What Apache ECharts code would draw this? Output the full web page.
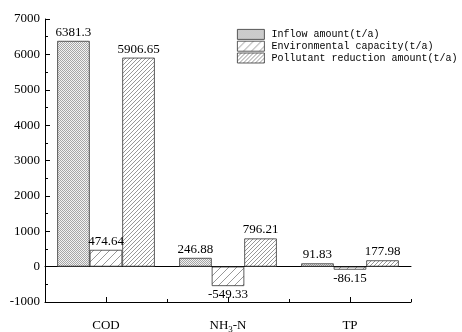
<!DOCTYPE html>
<html><head><meta charset="utf-8">
<script src="https://cdn.jsdelivr.net/npm/echarts@6/dist/echarts.min.js"></script>
<style>html,body{margin:0;padding:0;background:#fff}#c{width:462px;height:332px}</style>
</head><body><div id="c"></div>
<script>
var categories = ['COD', 'NH{sub|3}-N', 'TP'];
var inflow = [6381.3, 246.88, 91.83];
var envCapacity = [474.64, -549.33, -86.15];
var reduction = [5906.65, 796.21, 177.98];
var seriesNames = ['Inflow amount(t/a)', 'Environmental capacity(t/a)', 'Pollutant reduction amount(t/a)'];
var yTicks = [-1000, 0, 1000, 2000, 3000, 4000, 5000, 6000, 7000];

function pattern(kind) {
  var c = document.createElement('canvas');
  var ctx = c.getContext('2d');
  if (kind === 'dots') {
    c.width = 2; c.height = 2;
    ctx.fillStyle = '#f2f2f2'; ctx.fillRect(0, 0, 2, 2);
    ctx.fillStyle = '#a6a6a6';
    ctx.fillRect(0, 0, 1, 1); ctx.fillRect(1, 1, 1, 1);
  } else {
    var s = kind === 'sparse' ? 8 : 4;
    c.width = s; c.height = s;
    ctx.fillStyle = '#ffffff'; ctx.fillRect(0, 0, s, s);
    ctx.strokeStyle = '#8c8c8c'; ctx.lineWidth = 0.9;
    ctx.beginPath();
    ctx.moveTo(0, s); ctx.lineTo(s, 0);
    ctx.moveTo(-s, s); ctx.lineTo(s, -s);
    ctx.moveTo(0, 2 * s); ctx.lineTo(2 * s, 0);
    ctx.stroke();
  }
  return { image: c, repeat: 'repeat' };
}

var fills = [pattern('dots'), pattern('sparse'), pattern('dense')];
var serif = 'Liberation Serif';

function mkData(arr) {
  return arr.map(function (v) {
    return { value: v, label: { position: v < 0 ? 'bottom' : 'top' } };
  });
}

var allData = [inflow, envCapacity, reduction];
var series = allData.map(function (arr, i) {
  return {
    name: seriesNames[i],
    type: 'bar',
    xAxisIndex: 0,
    barGap: '0%',
    barCategoryGap: '20%',
    itemStyle: { color: fills[i], borderColor: '#333', borderWidth: 0.8 },
    label: {
      show: true, color: '#000', fontFamily: serif, fontSize: 13, distance: 2,
      formatter: function (p) { return String(p.value); }
    },
    data: mkData(arr)
  };
});

var chart = echarts.init(document.getElementById('c'), null, { renderer: 'canvas' });
chart.setOption({
  animation: false,
  backgroundColor: '#fff',
  grid: { left: 45, right: 51, top: 19, bottom: 30, containLabel: false, outerBoundsMode: 'none' },
  legend: {
    orient: 'vertical', left: 237, top: 29, padding: 0,
    icon: 'rect',
    itemWidth: 27, itemHeight: 10, itemGap: 1,
    textStyle: { fontFamily: 'Liberation Mono', fontSize: 10, color: '#000', padding: [0, 0, 0, 2] },
    itemStyle: { borderColor: '#333', borderWidth: 0.8 },
    data: seriesNames
  },
  xAxis: [
    {
      type: 'category', data: categories, position: 'bottom',
      axisLine: { onZero: false, lineStyle: { color: '#000', width: 1 } },
      axisTick: { show: true, alignWithLabel: true, inside: true, length: 5, lineStyle: { color: '#000' } },
      axisLabel: {
        color: '#000', fontFamily: serif, fontSize: 13, margin: 16, lineHeight: 16,
        rich: { sub: { fontSize: 9, fontFamily: serif, color: '#000', lineHeight: 16, verticalAlign: 'bottom' } }
      }
    },
    {
      type: 'category', data: categories, position: 'bottom',
      axisLine: { show: false, onZero: false },
      axisTick: { show: true, inside: true, length: 3, lineStyle: { color: '#000' } },
      axisLabel: { show: false }
    },
    {
      type: 'category', data: categories, position: 'bottom',
      axisLine: { show: true, onZero: true, lineStyle: { color: '#000', width: 1 } },
      axisTick: { show: false },
      axisLabel: { show: false }
    }
  ],
  yAxis: {
    type: 'value', min: yTicks[0], max: yTicks[yTicks.length - 1], interval: 1000,
    axisLine: { show: true, lineStyle: { color: '#000', width: 1 } },
    axisTick: { show: true, inside: true, length: 5, lineStyle: { color: '#000' } },
    minorTick: { show: true, splitNumber: 2, length: 3, lineStyle: { color: '#000' } },
    splitLine: { show: false },
    axisLabel: { color: '#000', fontFamily: serif, fontSize: 13, margin: 5,
      formatter: function (v) { return String(v); } }
  },
  series: series
});
</script></body></html>
